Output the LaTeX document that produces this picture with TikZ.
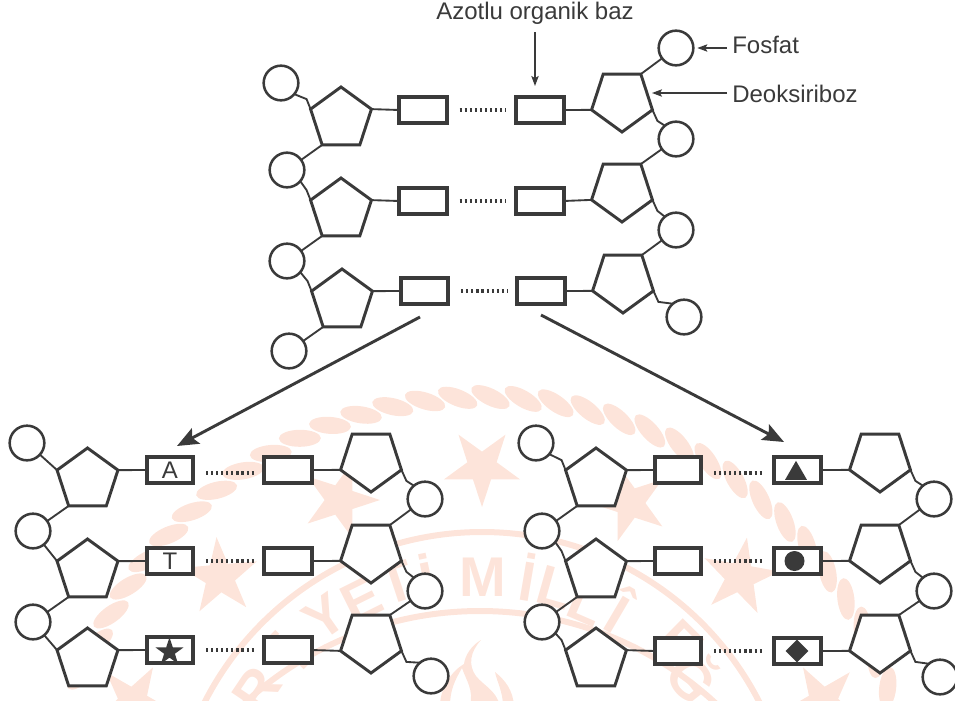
\documentclass[tikz,border=0pt]{standalone}
\usepackage{fontspec}
\setmainfont{Liberation Sans}
\usetikzlibrary{shapes.geometric,arrows.meta,calc}
\definecolor{ink}{HTML}{3A3A3A}
\definecolor{wm}{HTML}{FDE4DA}
\tikzset{
  phos/.style={circle,draw=ink,fill=white,line width=1.9pt,minimum size=26pt,inner sep=0pt,outer sep=0pt},
  sugup/.style={regular polygon,regular polygon sides=5,draw=ink,fill=white,line width=2.2pt,minimum size=48pt,inner sep=0pt,outer sep=0pt,line join=miter},
  sugdn/.style={sugup,shape border rotate=180},
  basebox/.style={rectangle,draw=ink,fill=white,line width=3pt,minimum width=35.5pt,minimum height=19.5pt,inner sep=0pt,outer sep=0pt,text=ink,font=\fontsize{18pt}{20pt}\selectfont},
  link/.style={draw=ink,line width=1.4pt},
  bond/.style={draw=ink,line width=2.4pt,line cap=butt,dash pattern=on 1.6pt off 2.2pt},
  bigarrow/.style={draw=ink,line width=2.2pt,-{Stealth[length=16pt,width=13pt,inset=3pt]}},
  thinarrow/.style={draw=ink,line width=1pt,-{Stealth[length=7.5pt,width=5.5pt,inset=1.5pt]}},
  lab/.style={text=ink,font=\fontsize{18pt}{20pt}\selectfont,inner sep=0pt},
  glyphmark/.style={fill=ink,draw=none,inner sep=0pt,outer sep=0pt},
  wmstar/.style={star,star points=5,star point ratio=2.6,fill=wm,draw=none,inner sep=0pt,minimum size=60pt},
  wmletter/.style={text=wm,font=\fontsize{42pt}{42pt}\selectfont\bfseries,inner sep=0pt},
}
\begin{document}
\begin{tikzpicture}[x=0.75pt,y=-0.75pt]
\useasboundingbox (0,0) rectangle (955,700);
\clip (0,0) rectangle (955,700);
% ---- watermark ----
\foreach \a in {159.4,155,150.6,...,15}{
  \pgfmathsetmacro\wx{483+427*cos(\a)}
  \pgfmathsetmacro\wy{824-427*sin(\a)}
  \pgfmathsetmacro\wr{\a-115}
  \fill[wm,shift={(\wx,\wy)},rotate=\wr] (0,0) ellipse (21 and 8.5);
}
\draw[wm,line width=4.5pt] (482,843) circle (311);
\draw[wm,line width=4.5pt] (480,958) circle (347);
\node[wmstar,rotate=-18] (ws1) at (340,500) {};
\node[wmstar,rotate=5]   (ws2) at (220,577) {};
\node[wmstar,rotate=36]  (ws3) at (482,467) {};
\node[wmstar,rotate=-30] (ws4) at (133,702) {};
\node[wmstar,rotate=18]  (ws5) at (630,503) {};
\node[wmstar,rotate=-10] (ws6) at (740,577) {};
\node[wmstar,rotate=30]  (ws7) at (823,702) {};
\foreach \l/\x/\y [count=\i] in {R/257/690,İ/290/650,Y/325/617,E/362/600,T/397/583,İ/427/577,M/483/577,İ/528/577,L/555/588,L/587/604,Î/620/610,E/680/643,Ğ/695/676}{
  \pgfmathsetmacro\wr{-atan((\x-483)/(843-\y))}
  \node[wmletter,rotate=\wr] (wl\i) at (\x,\y) {\l};
}
\fill[wm] (481,640) .. controls (470,652) and (468,665) .. (476,676) .. controls (484,686) and (496,690) .. (500,706) -- (470,706) .. controls (474,690) and (466,680) .. (462,668) .. controls (455,680) and (450,690) .. (450,706) -- (440,706) .. controls (440,690) and (450,672) .. (464,664) .. controls (465,655) and (472,645) .. (481,640) -- cycle;
\fill[wm] (495,672) .. controls (505,680) and (513,690) .. (514,706) -- (503,706) .. controls (503,692) and (497,682) .. (495,672) -- cycle;
% ---- top molecule ----
\node[phos] (tc1) at (281,83) {};
\node[phos] (tc2) at (287,170) {};
\node[phos] (tc3) at (287,261) {};
\node[phos] (tc4) at (289,351) {};
\node[sugup] (ts1) at (341,119) {};
\node[sugup] (ts2) at (341,210) {};
\node[sugup] (ts3) at (342,301) {};
\node[basebox] (tl1) at (423,110) {};
\node[basebox] (tl2) at (423,201) {};
\node[basebox] (tl3) at (424.5,291) {};
\node[basebox] (tr1) at (540,110) {};
\node[basebox] (tr2) at (540,201) {};
\node[basebox] (tr3) at (541,291) {};
\node[sugdn] (tp1) at (622,100) {};
\node[sugdn] (tp2) at (622,190) {};
\node[sugdn] (tp3) at (623,281) {};
\node[phos] (td0) at (676,48) {};
\node[phos] (td1) at (676,139) {};
\node[phos] (td2) at (676,230) {};
\node[phos] (td3) at (684,317) {};
% ---- lower left molecule ----
\node[phos] (ac1) at (27,443) {};
\node[phos] (ac2) at (33,531) {};
\node[phos] (ac3) at (33,622) {};
\node[sugup] (as1) at (87.5,480) {};
\node[sugup] (as2) at (87.5,571) {};
\node[sugup] (as3) at (87.5,660) {};
\node[basebox,minimum width=34.5pt] (al1) at (170,470) {A};
\node[basebox,minimum width=34.5pt] (al2) at (170,561) {T};
\node[basebox,minimum width=34.5pt] (al3) at (170,650) {};
\node[glyphmark,star,star points=5,star point ratio=2.6,minimum size=22pt] (astar) at (169.5,652) {};
\node[basebox,minimum width=36pt] (ar1) at (288,470) {};
\node[basebox,minimum width=36pt] (ar2) at (288,561) {};
\node[basebox,minimum width=36pt] (ar3) at (288,650) {};
\node[sugdn] (ap1) at (371,460) {};
\node[sugdn] (ap2) at (371,551) {};
\node[sugdn] (ap3) at (371,641) {};
\node[phos] (ad1) at (425,499) {};
\node[phos] (ad2) at (425,591) {};
\node[phos] (ad3) at (431,676) {};
% ---- lower right molecule ----
\node[phos] (bc1) at (536,443) {};
\node[phos] (bc2) at (542,531) {};
\node[phos] (bc3) at (542,622) {};
\node[sugup] (bs1) at (596,480) {};
\node[sugup] (bs2) at (596,571) {};
\node[sugup] (bs3) at (596,660) {};
\node[basebox,minimum width=34.5pt] (bl1) at (678,470) {};
\node[basebox,minimum width=34.5pt] (bl2) at (678,561) {};
\node[basebox,minimum width=34.5pt] (bl3) at (678,651) {};
\node[basebox] (br1) at (797.5,470) {};
\node[basebox] (br2) at (797.5,561) {};
\node[basebox] (br3) at (797.5,651) {};
\node[glyphmark,regular polygon,regular polygon sides=3,minimum size=19pt] (btri) at (796,473.5) {};
\node[glyphmark,circle,minimum size=15pt] (bcir) at (794.5,561) {};
\node[glyphmark,diamond,minimum width=17pt,minimum height=17pt] (bdia) at (797,651) {};
\node[sugdn] (bp1) at (880,460) {};
\node[sugdn] (bp2) at (880,551) {};
\node[sugdn] (bp3) at (880,641) {};
\node[phos] (bd1) at (934,499) {};
\node[phos] (bd2) at (934,591) {};
\node[phos] (bd3) at (940,677) {};
% ---- left backbone connectors ----
\foreach \p in {t,b}{
  \draw[link] (\p c1.-40) -- ([shift={(-4,-10)}]\p s1.corner 2) -- (\p s1.corner 2);
  \draw[link] (\p c2.-40) -- ([shift={(-4,-10)}]\p s2.corner 2) -- (\p s2.corner 2);
  \draw[link] (\p c3.-40) -- ([shift={(-4,-10)}]\p s3.corner 2) -- (\p s3.corner 2);
}
\draw[link] (ac1) -- (as1.corner 2);
\draw[link] (ac2) -- (as2.corner 2);
\draw[link] (ac3) -- (as3.corner 2);
\foreach \p/\q in {t/0,a/3,b/3}{
  \draw[link] (\p c2) -- (\p s1.corner 3);
  \draw[link] (\p c3) -- (\p s2.corner 3);
  \foreach \n in {1,2,3}{
    \pgfmathsetmacro\dy{(\n==1)*\q}
    \draw[link] (\p s\n.corner 5) -- (\p l\n.west);
    \draw[link] (\p p\n.corner 5) -- (\p r\n.east);
    \draw[bond] ($(\p l\n.east)+(13,\dy)$) -- ($(\p r\n.west)+(-10,\dy)$);
    \draw[link] (\p p\n.corner 2) -- ([shift={(5,11)}]\p p\n.corner 2) -- (\p d\n.130);
  }
  \draw[link] (\p d1) -- (\p p2.corner 3);
  \draw[link] (\p d2) -- (\p p3.corner 3);
}
\draw[link] (tc4) -- (ts3.corner 3);
\draw[link] (td0) -- (tp1.corner 3);
% ---- labels ----
\node[lab] (azot) at (535,13) {Azotlu organik baz};
\node[lab,anchor=west] (fos) at (732,45) {Fosfat};
\node[lab,anchor=west] (deo) at (732,94) {Deoksiriboz};
\coordinate (azs) at (535,32);
\coordinate (azt) at (535,86);
\coordinate (deot) at (652,93);
\coordinate (deos) at (727,93);
\draw[thinarrow] (azs) -- (azt);
\draw[thinarrow,shorten <=4pt,shorten >=3pt] (fos.west |- td0) -- (td0.east);
\draw[thinarrow] (deos) -- (deot);
% ---- big arrows ----
\coordinate (lfrom) at (420,317);
\coordinate (lto) at (177,446);
\coordinate (rfrom) at (541,315);
\coordinate (rto) at (784,442);
\draw[bigarrow] (lfrom) -- (lto);
\draw[bigarrow] (rfrom) -- (rto);
\end{tikzpicture}
\end{document}
